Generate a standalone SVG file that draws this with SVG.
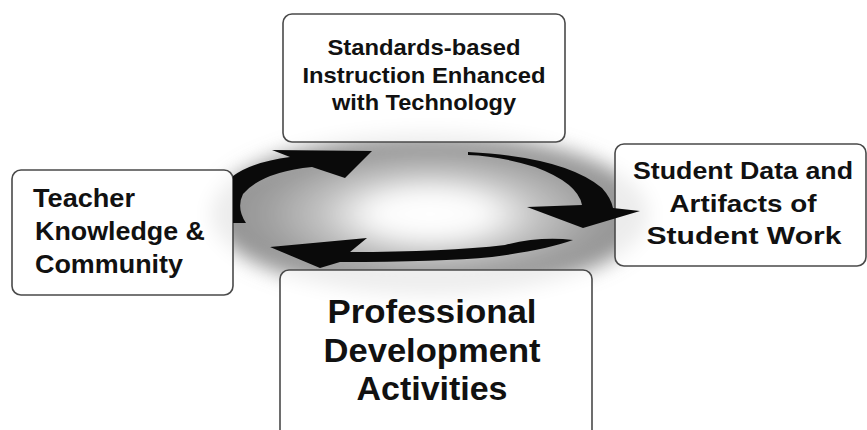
<svg xmlns="http://www.w3.org/2000/svg" width="867" height="430" viewBox="0 0 867 430">
<style>
.box{fill:#fff;fill-opacity:0.82;stroke:#4a4a4a;stroke-width:1.6}
.t{font-family:"Liberation Sans",Arial,sans-serif;font-weight:bold;fill:#111}
.arrow{fill:#0a0a0a}
</style>
<defs>
<radialGradient id="halo" cx="0.5" cy="0.5" r="0.5">
<stop offset="0" stop-color="#ffffff"/>
<stop offset="0.25" stop-color="#fcfcfc"/>
<stop offset="0.5" stop-color="#c2c2c2"/>
<stop offset="0.75" stop-color="#a0a0a0"/>
<stop offset="1" stop-color="#8e8e8e"/>
</radialGradient>
<filter id="blur" x="-30%" y="-50%" width="160%" height="200%">
<feGaussianBlur stdDeviation="10"/>
</filter>
</defs>
<rect width="867" height="430" fill="#fff"/>
<ellipse cx="430" cy="214" rx="218" ry="80" fill="url(#halo)" filter="url(#blur)"/>

<g id="node-top">
<rect class="box" x="283" y="14" width="282" height="128" rx="9"/>
<text class="t" font-size="22" text-anchor="middle" x="424" y="55" textLength="193" lengthAdjust="spacingAndGlyphs">Standards-based</text>
<text class="t" font-size="22" text-anchor="middle" x="424" y="83" textLength="243" lengthAdjust="spacingAndGlyphs">Instruction Enhanced</text>
<text class="t" font-size="22" text-anchor="middle" x="424" y="110" textLength="184" lengthAdjust="spacingAndGlyphs">with Technology</text>
</g>

<g id="node-left">
<rect class="box" x="12" y="170" width="221" height="125" rx="9"/>
<text class="t" font-size="25" x="33" y="207" textLength="102" lengthAdjust="spacingAndGlyphs">Teacher</text>
<text class="t" font-size="25" x="35" y="240" textLength="170" lengthAdjust="spacingAndGlyphs">Knowledge &amp;</text>
<text class="t" font-size="25" x="35" y="273" textLength="148" lengthAdjust="spacingAndGlyphs">Community</text>
</g>

<g id="node-right">
<rect class="box" x="615" y="144" width="251" height="122" rx="9"/>
<text class="t" font-size="24" text-anchor="middle" x="743" y="179" textLength="220" lengthAdjust="spacingAndGlyphs">Student Data and</text>
<text class="t" font-size="24" text-anchor="middle" x="743" y="212" textLength="147" lengthAdjust="spacingAndGlyphs">Artifacts of</text>
<text class="t" font-size="24" text-anchor="middle" x="744" y="244" textLength="195" lengthAdjust="spacingAndGlyphs">Student Work</text>
</g>

<g id="node-bottom">
<rect class="box" x="280" y="270" width="312" height="175" rx="9"/>
<text class="t" font-size="34" text-anchor="middle" x="432" y="323" textLength="209" lengthAdjust="spacingAndGlyphs">Professional</text>
<text class="t" font-size="34" text-anchor="middle" x="432" y="362" textLength="217" lengthAdjust="spacingAndGlyphs">Development</text>
<text class="t" font-size="34" text-anchor="middle" x="432" y="400" textLength="151" lengthAdjust="spacingAndGlyphs">Activities</text>
</g>

<g id="connectors">
<path class="arrow" d="M 233 223 L 233 176 Q 252 162 290 157 L 272 150 L 372 151 L 345 178 L 312 167 Q 262 172 243 194 Q 236 208 246 223 Z"/>
<path class="arrow" d="M 468 152 Q 565 157 602 188 Q 611 198 613 208 L 640 211 L 583 228 L 527 207 L 582 205 Q 578 183 535 167 Q 500 156 468 155 Z"/>
<path class="arrow" d="M 573 240 Q 540 236 505 245 Q 445 252 350 252 L 367 238 L 270 247 L 320 268 L 340 262 Q 440 262 492 257 Q 545 250 573 240 Z"/>
</g>
</svg>
